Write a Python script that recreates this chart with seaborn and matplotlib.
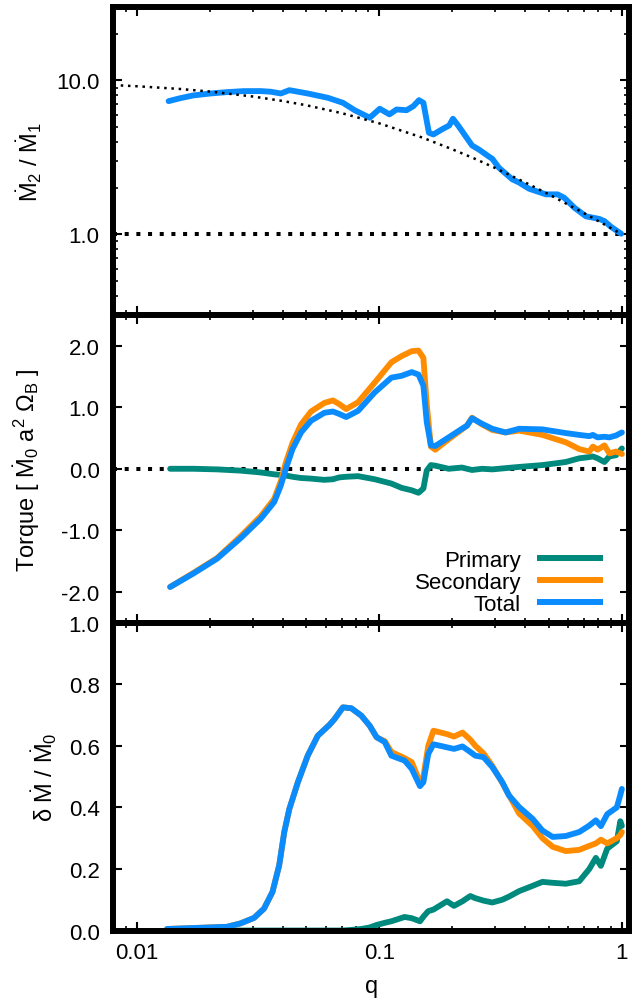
import matplotlib
matplotlib.use("Agg")
import matplotlib.pyplot as plt
from matplotlib.lines import Line2D
from matplotlib.ticker import (FixedLocator, FixedFormatter, LogLocator, NullFormatter,
                               MultipleLocator, FormatStrFormatter, NullLocator)
import seaborn as sns

# ---------------- data ----------------
# top panel: Mdot2 / Mdot1
q_ratio = [0.0135, 0.01507, 0.0171, 0.0201, 0.0235, 0.0276, 0.0324, 0.0356, 0.0392, 0.0425,
           0.0506, 0.0612, 0.0707, 0.0790, 0.0912, 0.1003, 0.110, 0.1177, 0.1294, 0.138,
           0.1456, 0.1518, 0.160, 0.167, 0.181, 0.194, 0.201, 0.212, 0.241, 0.257,
           0.283, 0.292, 0.311, 0.353, 0.377, 0.414, 0.486, 0.543, 0.578, 0.637,
           0.711, 0.807, 0.847, 0.902, 0.993]
ratio = [7.34, 7.67, 8.0, 8.23, 8.4, 8.53, 8.53, 8.45, 8.23, 8.65,
         8.23, 7.72, 7.16, 6.41, 5.73, 6.55, 6.02, 6.48, 6.41, 6.81,
         7.45, 7.16, 4.57, 4.46, 4.81, 5.10, 5.64, 5.05, 3.78, 3.56,
         3.20, 3.10, 2.71, 2.28, 2.17, 1.98, 1.82, 1.82, 1.73, 1.49,
         1.31, 1.26, 1.22, 1.12, 1.01]

# dotted reference curve in top panel
q_fit = [0.008, 0.01, 0.015, 0.02, 0.03, 0.04, 0.05, 0.07, 0.1, 0.15, 0.2, 0.25,
         0.3, 0.4, 0.5, 0.6, 0.7, 0.8, 0.9, 1.0]
ratio_fit = [9.33, 9.17, 8.81, 8.47, 7.87, 7.35, 6.90, 6.13, 5.26, 4.26, 3.57, 3.08,
             2.70, 2.17, 1.82, 1.56, 1.37, 1.22, 1.10, 1.0]

# middle panel: torque
q_torque = [0.0137, 0.0171, 0.0214, 0.0267, 0.0324, 0.0368, 0.0392, 0.0411, 0.0438, 0.0475,
            0.0522, 0.0593, 0.0643, 0.0683, 0.0729, 0.0816, 0.0956, 0.112, 0.1234, 0.1359,
            0.1449, 0.1518, 0.1567, 0.163, 0.170, 0.193, 0.219, 0.2296, 0.241, 0.265,
            0.292, 0.331, 0.377, 0.470, 0.587, 0.667, 0.734, 0.759, 0.794, 0.847,
            0.888, 0.945, 1.0]
torque_total = [-1.92, -1.70, -1.46, -1.13, -0.81, -0.54, -0.27, 0.0, 0.32, 0.59,
                0.78, 0.91, 0.93, 0.89, 0.84, 0.94, 1.24, 1.48, 1.51, 1.57,
                1.53, 1.35, 0.76, 0.38, 0.37, 0.51, 0.65, 0.70, 0.82, 0.73,
                0.65, 0.59, 0.65, 0.64, 0.58, 0.55, 0.53, 0.55, 0.51, 0.52,
                0.51, 0.54, 0.59]
torque_secondary = [-1.92, -1.69, -1.45, -1.10, -0.77, -0.49, -0.20, 0.10, 0.42, 0.72,
                    0.93, 1.07, 1.11, 1.05, 0.97, 1.08, 1.40, 1.73, 1.83, 1.91,
                    1.92, 1.80, 1.05, 0.36, 0.31, 0.48, 0.64, 0.70, 0.83, 0.72,
                    0.63, 0.59, 0.62, 0.55, 0.43, 0.32, 0.28, 0.36, 0.31, 0.38,
                    0.25, 0.28, 0.24]
torque_primary = [0.0, 0.0, -0.01, -0.03, -0.06, -0.09, -0.10, -0.11, -0.13, -0.15,
                  -0.16, -0.18, -0.17, -0.14, -0.13, -0.12, -0.17, -0.24, -0.31, -0.35,
                  -0.39, -0.32, -0.03, 0.06, 0.05, 0.0, 0.02, 0.0, -0.02, 0.0,
                  -0.01, 0.01, 0.03, 0.06, 0.11, 0.17, 0.19, 0.20, 0.17, 0.11,
                  0.20, 0.22, 0.33]

# bottom panel: accretion-rate variability
q_var = [0.0133, 0.0235, 0.0267, 0.0304, 0.0334, 0.0362, 0.0386, 0.0405, 0.0425, 0.0461,
         0.0506, 0.0557, 0.0622, 0.0653, 0.0707, 0.0766, 0.0842, 0.0912, 0.0973, 0.1052,
         0.112, 0.127, 0.1359, 0.147, 0.1518, 0.159, 0.167, 0.190, 0.203, 0.22,
         0.237, 0.2486, 0.269, 0.292, 0.321, 0.342, 0.377, 0.428, 0.470, 0.518,
         0.587, 0.667, 0.734, 0.781, 0.819, 0.87, 0.953, 0.985, 1.0]
var_total = [0.005, 0.012, 0.023, 0.041, 0.071, 0.125, 0.212, 0.320, 0.395, 0.482,
             0.568, 0.633, 0.668, 0.687, 0.725, 0.722, 0.698, 0.665, 0.628, 0.612,
             0.568, 0.552, 0.525, 0.469, 0.482, 0.574, 0.605, 0.595, 0.590, 0.598,
             0.580, 0.568, 0.563, 0.531, 0.482, 0.439, 0.401, 0.363, 0.325, 0.304,
             0.307, 0.320, 0.341, 0.358, 0.339, 0.378, 0.400, 0.440, 0.460]
var_secondary = [0.005, 0.012, 0.023, 0.041, 0.071, 0.125, 0.212, 0.320, 0.395, 0.482,
                 0.568, 0.633, 0.668, 0.687, 0.725, 0.722, 0.698, 0.665, 0.628, 0.615,
                 0.580, 0.560, 0.547, 0.482, 0.500, 0.600, 0.649, 0.638, 0.630, 0.643,
                 0.620, 0.600, 0.575, 0.535, 0.480, 0.440, 0.380, 0.340, 0.300, 0.272,
                 0.258, 0.262, 0.275, 0.283, 0.295, 0.283, 0.300, 0.310, 0.320]
var_primary = [0.0, 0.0, 0.0, 0.0, 0.0, 0.0, 0.0, 0.0, 0.0, 0.0,
               0.0, 0.0, 0.0, 0.0, 0.0, 0.002, 0.005, 0.010, 0.018, 0.025,
               0.030, 0.044, 0.040, 0.030, 0.045, 0.063, 0.068, 0.095, 0.080, 0.095,
               0.112, 0.105, 0.097, 0.091, 0.100, 0.110, 0.128, 0.145, 0.158, 0.155,
               0.152, 0.160, 0.200, 0.236, 0.210, 0.266, 0.290, 0.355, 0.340]

labels = ["Primary", "Secondary", "Total"]
c_primary = "#00897d"
c_secondary = "#ff8c00"
c_total = "#0a8cff"

# ---------------- style ----------------
sns.set_theme(style="white")
plt.rcParams.update({
    "font.family": ["Liberation Sans", "DejaVu Sans"],
    "mathtext.fontset": "custom",
    "mathtext.rm": "Liberation Sans",
    "mathtext.it": "Liberation Sans:italic",
    "mathtext.bf": "Liberation Sans:bold",
    "mathtext.sf": "Liberation Sans",
    "axes.unicode_minus": False,
    "font.size": 16,
    "text.color": "black",
    "axes.labelcolor": "black",
    "xtick.color": "black",
    "ytick.color": "black",
    "xtick.labelcolor": "black",
    "ytick.labelcolor": "black",
})

FS = 16
LW = 4.2
dots_big = (0, (1, 1.9))

fig = plt.figure(figsize=(6.33, 10.04), dpi=100)
gs = fig.add_gridspec(3, 1, left=0.1793, right=0.9937, top=0.992, bottom=0.0722, hspace=0)
ax1 = fig.add_subplot(gs[0])
ax2 = fig.add_subplot(gs[1], sharex=ax1)
ax3 = fig.add_subplot(gs[2], sharex=ax1)

for ax in (ax1, ax2, ax3):
    ax.set_xscale("log")
    ax.set_facecolor("white")
    for s in ax.spines.values():
        s.set_linewidth(4.3)
        s.set_color("black")
        s.set_visible(True)

ax1.set_yscale("log")

line_kw = dict(linewidth=LW, estimator=None, sort=False,
               solid_capstyle="round", solid_joinstyle="round", legend=False)

# top panel
ax1.axhline(1.0, color="black", linewidth=2.9, linestyle=dots_big, dash_capstyle="butt", zorder=1)
sns.lineplot(x=q_ratio, y=ratio, ax=ax1, color=c_total, zorder=2, **line_kw)
sns.lineplot(x=q_fit, y=ratio_fit, ax=ax1, color="black", linewidth=1.8,
             linestyle=(0, (1, 1.9)), dash_capstyle="butt", estimator=None, sort=False,
             legend=False, zorder=3)

# middle panel
ax2.axhline(0.0, color="black", linewidth=2.9, linestyle=dots_big, dash_capstyle="butt", zorder=1)
sns.lineplot(x=q_torque, y=torque_primary, ax=ax2, color=c_primary, zorder=2, **line_kw)
sns.lineplot(x=q_torque, y=torque_secondary, ax=ax2, color=c_secondary, zorder=2, **line_kw)
sns.lineplot(x=q_torque, y=torque_total, ax=ax2, color=c_total, zorder=2, **line_kw)

# bottom panel
sns.lineplot(x=q_var, y=var_primary, ax=ax3, color=c_primary, zorder=2, **line_kw)
sns.lineplot(x=q_var, y=var_secondary, ax=ax3, color=c_secondary, zorder=2, **line_kw)
sns.lineplot(x=q_var, y=var_total, ax=ax3, color=c_total, zorder=2, **line_kw)

# ---------------- axes / ticks ----------------
ax1.set_xlim(0.008, 1.07)
ax3.xaxis.set_major_locator(FixedLocator([0.01, 0.1, 1.0]))
ax3.xaxis.set_major_formatter(FixedFormatter(["0.01", "0.1", "1"]))
ax3.xaxis.set_minor_locator(LogLocator(base=10, subs=[2, 3, 4, 5, 6, 7, 8, 9], numticks=30))
ax3.xaxis.set_minor_formatter(NullFormatter())

ax1.set_ylim(0.3, 30)
ax1.yaxis.set_major_locator(FixedLocator([1.0, 10.0]))
ax1.yaxis.set_major_formatter(FixedFormatter(["1.0", "10.0"]))
ax1.yaxis.set_minor_locator(LogLocator(base=10, subs=[2, 3, 4, 5, 6, 7, 8, 9], numticks=30))
ax1.yaxis.set_minor_formatter(NullFormatter())

ax2.set_ylim(-2.5, 2.5)
ax2.yaxis.set_major_locator(MultipleLocator(1.0))
ax2.yaxis.set_major_formatter(FormatStrFormatter("%.1f"))

ax3.set_ylim(0.0, 1.0)
ax3.yaxis.set_major_locator(MultipleLocator(0.2))
ax3.yaxis.set_major_formatter(FormatStrFormatter("%.1f"))

for ax in (ax1, ax2, ax3):
    ax.tick_params(which="major", direction="in", length=6.5, width=1.5, color="black",
                   top=True, right=True, bottom=True, left=True,
                   labelsize=FS, pad=10, labelcolor="black")
    ax.tick_params(which="minor", direction="in", length=3.5, width=1.2, color="black",
                   top=True, right=True, bottom=True, left=True)
    ax.tick_params(axis="x", pad=8)
ax1.tick_params(labelbottom=False)
ax2.tick_params(labelbottom=False)
ax2.yaxis.set_minor_locator(NullLocator())
ax3.yaxis.set_minor_locator(NullLocator())

# labels
ax1.set_ylabel(r"$\dot{\mathrm{M}}_2$ / $\dot{\mathrm{M}}_1$", fontsize=FS + 1, color="black")
ax2.set_ylabel(r"Torque [ $\dot{\mathrm{M}}_0$ a$^2$ $\Omega_\mathrm{B}$ ]", fontsize=FS + 1,
               color="black")
ax3.set_ylabel(r"δ $\dot{\mathrm{M}}$ / $\dot{\mathrm{M}}_0$", fontsize=FS + 1, color="black")
ax3.set_xlabel("q", fontsize=FS + 1, color="black")
ax1.yaxis.set_label_coords(-0.135, 0.5)
ax2.yaxis.set_label_coords(-0.138, 0.5)
ax3.yaxis.set_label_coords(-0.106, 0.5)
ax3.xaxis.set_label_coords(0.5, -0.145)

# legend (gnuplot style: text right-aligned, sample on the right)
handles = [Line2D([], [], color=c, linewidth=4.3, solid_capstyle="butt")
           for c in (c_primary, c_secondary, c_total)]
leg = ax2.legend(handles, labels, loc="lower right",
                 bbox_to_anchor=(603.3 / 633, 1 - 616 / 1004), bbox_transform=fig.transFigure,
                 frameon=False, markerfirst=False, handlelength=3.0, handletextpad=0.7,
                 labelspacing=0.05, borderpad=0, borderaxespad=0, fontsize=FS)
for t in leg.get_texts():
    t.set_color("black")

fig.savefig("out.png", dpi=100)
